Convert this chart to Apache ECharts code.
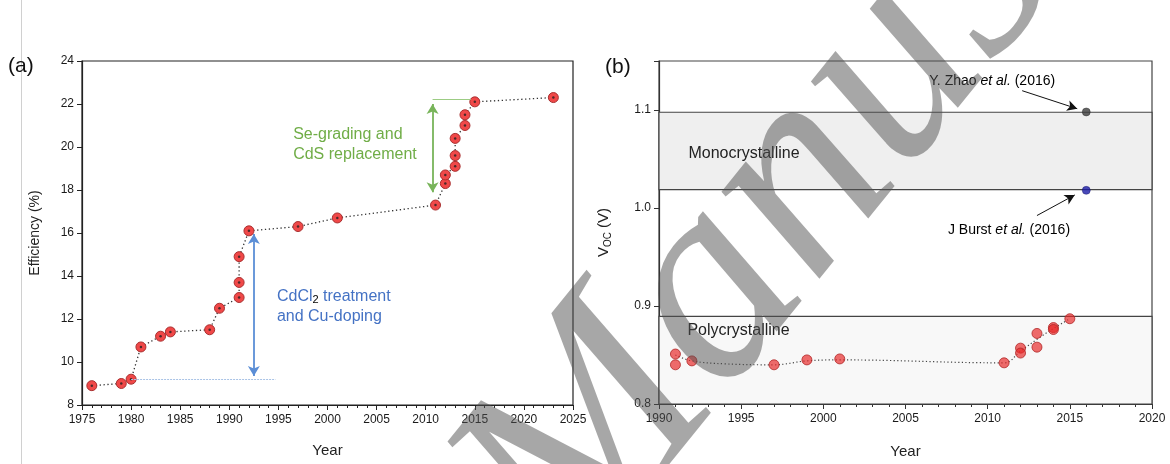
<!DOCTYPE html>
<html>
<head>
<meta charset="utf-8">
<script src="https://cdn.jsdelivr.net/npm/echarts@6/dist/echarts.min.js"></script>
<style>html,body{margin:0;padding:0;background:#fff}#c{width:1170px;height:464px}</style>
</head>
<body>
<div id="c"></div>
<script>
// ---- Data (a) efficiency ----
const effYears  = [1976,1979,1980,1981,1983,1984,1988,1989,1991,1991,1991,1992,1997,2001,2011,2012,2012,2013,2013,2013,2014,2014,2015,2023];
const effValues = [8.9,9.0,9.2,10.7,11.2,11.4,11.5,12.5,13.0,13.7,14.9,16.1,16.3,16.7,17.3,18.3,18.7,19.1,19.6,20.4,21.0,21.5,22.1,22.3];
const effXTicks = [1975,1980,1985,1990,1995,2000,2005,2010,2015,2020,2025];
const effYTicks = [8,10,12,14,16,18,20,22,24];

// ---- Data (b) Voc ----
const vocYears  = [1991,1991,1992,1997,1999,2001,2011,2012,2012,2013,2013,2014,2014,2015];
const vocValues = [0.851,0.840,0.844,0.840,0.845,0.846,0.842,0.857,0.852,0.872,0.858,0.878,0.876,0.887];
const vocTrendYears  = [1991,1992,1994,1997,1999,2001,2011,2012,2013,2014,2015];
const vocTrendValues = [0.850,0.844,0.841,0.840,0.844,0.845,0.842,0.854,0.866,0.877,0.887];
const zhao  = [2016, 1.098];
const burst = [2016, 1.018];
const monoBand = [1.0187, 1.0977];
const polyBand = [0.8, 0.8895];
const vocXTicks = [1990,1995,2000,2005,2010,2015,2020];
const vocYTicks = [0.8,0.9,1.0,1.1];

const zip = (a,b) => a.map((v,i)=>[v,b[i]]);
const FONT = 'Liberation Sans, Arial, sans-serif';

const chart = echarts.init(document.getElementById('c'), null, {renderer:'canvas'});

const axisCommon = (color) => ({
  axisLine:{show:true, lineStyle:{color:color, width:1.2}},
  axisTick:{show:true, inside:false, length:5, lineStyle:{color:color}},
  splitLine:{show:false},
  axisLabel:{color:'#1a1a1a', fontSize:12, fontFamily:FONT}
});

const yearFmt = v => String(Math.round(v));
const vocFmt = v => {
  const hit = vocYTicks.some(t => Math.abs(t - v) < 1e-6);
  return hit ? v.toFixed(1) : '';
};

const option = {
  animation:false,
  backgroundColor:'#fff',
  grid:[
    {left:82, top:61, width:491, height:344, show:true, borderColor:'#222', borderWidth:1.2, backgroundColor:'transparent'},
    {left:659, top:61, width:493, height:344, show:true, borderColor:'#444', borderWidth:1.2, backgroundColor:'transparent'}
  ],
  xAxis:[
    Object.assign(axisCommon('#222'), {type:'value', gridIndex:0, min:effXTicks[0], max:effXTicks[effXTicks.length-1], interval:5,
      minorTick:{show:true, splitNumber:5, length:3, lineStyle:{color:'#222'}},
      axisLabel:{color:'#1a1a1a', fontSize:12, fontFamily:FONT, formatter:yearFmt, margin:9},
      name:'Year', nameLocation:'middle', nameGap:38, nameTextStyle:{fontSize:15, color:'#222', fontFamily:FONT}}),
    Object.assign(axisCommon('#333'), {type:'value', gridIndex:1, min:vocXTicks[0], max:vocXTicks[vocXTicks.length-1], interval:5,
      minorTick:{show:true, splitNumber:5, length:3, lineStyle:{color:'#333'}},
      axisLabel:{color:'#1a1a1a', fontSize:12, fontFamily:FONT, formatter:yearFmt, margin:9},
      name:'Year', nameLocation:'middle', nameGap:40, nameTextStyle:{fontSize:15, color:'#222', fontFamily:FONT}})
  ],
  yAxis:[
    Object.assign(axisCommon('#222'), {type:'value', gridIndex:0, min:effYTicks[0], max:effYTicks[effYTicks.length-1], interval:2,
      name:'Efficiency (%)', nameLocation:'middle', nameGap:40, nameTextStyle:{fontSize:14, color:'#222', fontFamily:FONT}}),
    Object.assign(axisCommon('#333'), {type:'value', gridIndex:1, min:vocYTicks[0], max:1.15, interval:0.1,
      axisLabel:{color:'#1a1a1a', fontSize:12, fontFamily:FONT, formatter:vocFmt},
      name:'{v|V}{s|OC}{v| (V)}', nameLocation:'middle', nameGap:46,
      nameTextStyle:{fontSize:15, color:'#222', fontFamily:FONT, rich:{v:{fontSize:15, color:'#222', fontFamily:FONT}, s:{fontSize:10, color:'#222', fontFamily:FONT, padding:[8,0,0,0]}}}})
  ],
  series:[
    {
      type:'line', xAxisIndex:0, yAxisIndex:0, data:zip(effYears, effValues),
      lineStyle:{color:'#333', width:1.3, type:[1.3,2.6]},
      symbol:'circle', symbolSize:10,
      itemStyle:{color:'#f04848', borderColor:'#a83030', borderWidth:1},
      z:3,
      markLine:{silent:true, animation:false, label:{show:false}, symbol:['none','none'],
        data:[
          [{coord:[1980,9.2], lineStyle:{color:'#a9c3e6', width:1, type:[2,1]}},{coord:[1994.7,9.2]}],
          [{coord:[2010.7,22.23], lineStyle:{color:'#9ccc84', width:1, type:'solid'}},{coord:[2014.6,22.23]}],
          [{coord:[1992.5,9.35], symbol:'arrow', symbolSize:[9,10], lineStyle:{color:'#5b8ed6', width:1.8, type:'solid'}},{coord:[1992.5,15.95], symbol:'arrow', symbolSize:[9,10]}],
          [{coord:[2010.7,17.9], symbol:'arrow', symbolSize:[9,10], lineStyle:{color:'#78b45a', width:1.8, type:'solid'}},{coord:[2010.7,22.0], symbol:'arrow', symbolSize:[9,10]}]
        ]}
    },
    {
      type:'scatter', xAxisIndex:0, yAxisIndex:0, data:zip(effYears, effValues),
      symbolSize:2.5, itemStyle:{color:'#222'}, z:4, silent:true
    },
    {
      type:'line', xAxisIndex:1, yAxisIndex:1, data:zip(vocTrendYears, vocTrendValues),
      smooth:0.4, showSymbol:false, symbol:'none',
      lineStyle:{color:'#444', width:1.2, type:[1.2,2.4]}, z:3,
      markArea:{silent:true, animation:false,
        data:[
          [{yAxis:monoBand[0], name:'Monocrystalline', itemStyle:{color:'#efefef', borderColor:'#444', borderWidth:1.2},
            label:{show:true, position:'insideLeft', distance:30, color:'#222', fontSize:16, fontFamily:FONT, offset:[0,3]}},
           {yAxis:monoBand[1]}],
          [{yAxis:polyBand[0], name:'Polycrystalline', itemStyle:{color:'#f8f8f8', borderColor:'#444', borderWidth:1.2},
            label:{show:true, position:'insideTopLeft', distance:0, color:'#222', fontSize:16, fontFamily:FONT, offset:[29,7]}},
           {yAxis:polyBand[1]}]
        ]},
      markLine:{silent:true, animation:false, label:{show:false}, symbol:['none','arrow'], symbolSize:[8,10],
        lineStyle:{color:'#111', width:1, type:'solid'},
        data:[
          [{coord:[2012.1,1.1197]},{coord:[2015.45,1.1013]}],
          [{coord:[2013.0,0.9923]},{coord:[2015.3,1.0133]}]
        ]}
    },
    {
      type:'scatter', xAxisIndex:1, yAxisIndex:1, data:zip(vocYears, vocValues),
      symbolSize:10, itemStyle:{color:'rgba(232,40,40,0.85)', borderColor:'#b02828', borderWidth:1}, z:4
    },
    {
      type:'scatter', xAxisIndex:1, yAxisIndex:1, data:[zhao],
      symbolSize:8, itemStyle:{color:'#3c3c3c', borderColor:'#222', borderWidth:0.5}, z:5
    },
    {
      type:'scatter', xAxisIndex:1, yAxisIndex:1, data:[burst],
      symbolSize:8, itemStyle:{color:'#1c1ca8', borderColor:'#101060', borderWidth:0.5}, z:5
    }
  ]
};
chart.setOption(option);

// Annotation text placed at data positions
const p0 = (x,y) => chart.convertToPixel({gridIndex:0}, [x,y]);
const p1 = (x,y) => chart.convertToPixel({gridIndex:1}, [x,y]);
const green = p0(1996.5, 20.1);
const blue  = p0(1994.85, 12.57);
const zt    = p1(2006.45, 1.129);
const bt    = p1(2007.58, 0.977);

chart.setOption({
  graphic:[
    {type:'line', shape:{x1:21.5, y1:0, x2:21.5, y2:464}, style:{stroke:'#d0d0d0', lineWidth:1}, silent:true},
    {type:'text', left:8, top:56, style:{text:'(a)', fontSize:21, fill:'#111', fontFamily:'Liberation Sans, Arial, sans-serif'}},
    {type:'text', left:605, top:57, style:{text:'(b)', fontSize:21, fill:'#111', fontFamily:'Liberation Sans, Arial, sans-serif'}},
    {type:'text', x:green[0], y:green[1], style:{text:'Se-grading and\nCdS replacement', fontSize:16, lineHeight:20, fill:'#70ad47', fontFamily:FONT, verticalAlign:'middle', align:'left'}},
    {type:'text', x:blue[0], y:blue[1], style:{
      text:'{b|CdCl}{s|2}{b| treatment}\n{b|and Cu-doping}', verticalAlign:'middle', align:'left', lineHeight:20,
      rich:{b:{fontSize:16, fill:'#4472c4', color:'#4472c4', fontFamily:FONT, lineHeight:20}, s:{fontSize:11, color:'#4472c4', fontFamily:FONT, padding:[7,0,0,0], lineHeight:20}}}},
    {type:'text', x:zt[0], y:zt[1], style:{
      text:'{n|Y. Zhao }{i|et al.}{n| (2016)}', verticalAlign:'middle', align:'left',
      rich:{n:{fontSize:14, color:'#111', fontFamily:FONT}, i:{fontSize:14, color:'#111', fontStyle:'italic', fontFamily:FONT}}}},
    {type:'text', x:bt[0], y:bt[1], style:{
      text:'{n|J Burst }{i|et al.}{n| (2016)}', verticalAlign:'middle', align:'left',
      rich:{n:{fontSize:14, color:'#111', fontFamily:FONT}, i:{fontSize:14, color:'#111', fontStyle:'italic', fontFamily:FONT}}}},
    {type:'text', x:405, y:445, rotation:51*Math.PI/180, z:100, silent:true, style:{
      text:'Manuscript', fontSize:285, fontStyle:'italic', fontFamily:'Liberation Serif, serif', fill:'rgba(80,80,80,0.5)', verticalAlign:'top', align:'left'}}
  ]
});
</script>
</body>
</html>
